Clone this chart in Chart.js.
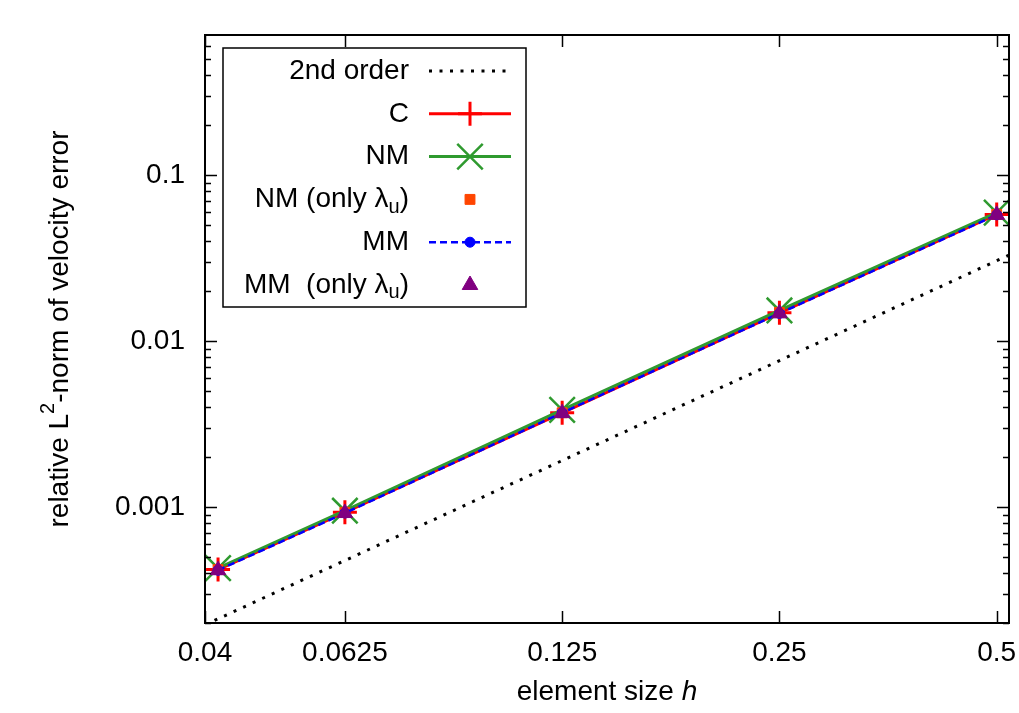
<!DOCTYPE html>
<html>
<head>
<meta charset="utf-8">
<script src="https://cdn.jsdelivr.net/npm/chart.js@4/dist/chart.umd.min.js"></script>
<style>
  html, body { margin: 0; padding: 0; background: #fff; }
  #wrap { width: 1019px; height: 713px; }
</style>
</head>
<body>
<div id="wrap"><canvas id="errChart" width="1019" height="713"></canvas></div>
<script>
// element sizes h
const hValues = [0.0417, 0.0625, 0.125, 0.25, 0.5];

// relative L2-norm of velocity error, one array per method
const errC = [0.00042, 0.00093, 0.0037, 0.0148, 0.058];
const errNM = [0.000428, 0.00095, 0.00385, 0.0153, 0.0595];
const errNMonly = [0.00042, 0.00093, 0.0037, 0.0149, 0.058];
const errMM = [0.000416, 0.00092, 0.0037, 0.0147, 0.0577];
const errMMonly = [0.000416, 0.00092, 0.00368, 0.0147, 0.0577];

// 2nd order reference line (end points)
const orderH = [0.04, 0.52];
const orderErr = [0.000195, 0.033];

const seriesLabels = ['2nd order', 'C', 'NM', 'NM (only λ_u)', 'MM', 'MM  (only λ_u)'];

const xTickValues = [0.04, 0.0625, 0.125, 0.25, 0.5];
const xTickLabels = ['0.04', '0.0625', '0.125', '0.25', '0.5'];
const yTickValues = [0.001, 0.01, 0.1];
const yTickLabels = ['0.001', '0.01', '0.1'];

const FONT = "'Liberation Sans', Arial, Helvetica, sans-serif";
const FS = 28;

const pts = (xs, ys) => xs.map((x, i) => ({ x: x, y: ys[i] }));

// big markers should not shrink the plot frame (they get clipped like gnuplot does)
if (Chart.controllers && Chart.controllers.scatter) {
  Chart.controllers.scatter.prototype.getMaxOverflow = function () { return 0; };
}

// inward gnuplot-like ticks + frame, and x tick labels
const frameTicks = {
  id: 'frameTicks',
  afterDatasetsDraw(chart) {
    const { ctx, chartArea: a, scales } = chart;
    const xs = scales.x, ys = scales.y;
    ctx.save();
    ctx.strokeStyle = '#000';
    ctx.lineWidth = 1.5;
    ctx.beginPath();
    xTickValues.forEach(v => {
      const px = Math.round(xs.getPixelForValue(v)) + 0.5;
      ctx.moveTo(px, a.bottom); ctx.lineTo(px, a.bottom - 12);
      ctx.moveTo(px, a.top); ctx.lineTo(px, a.top + 12);
    });
    // y major and minor ticks
    for (let e = -4; e <= 0; e++) {
      for (let m = 1; m <= 9; m++) {
        const v = m * Math.pow(10, e);
        if (v < ys.min || v > ys.max) continue;
        const len = m === 1 ? 12 : 6;
        const py = Math.round(ys.getPixelForValue(v)) + 0.5;
        ctx.moveTo(a.left, py); ctx.lineTo(a.left + len, py);
        ctx.moveTo(a.right, py); ctx.lineTo(a.right - len, py);
      }
    }
    ctx.stroke();
    ctx.lineWidth = 2;
    ctx.strokeRect(a.left, a.top, a.right - a.left, a.bottom - a.top);

    ctx.fillStyle = '#000';
    ctx.font = FS + 'px ' + FONT;
    ctx.textAlign = 'center';
    ctx.textBaseline = 'middle';
    xTickValues.forEach((v, i) => {
      ctx.fillText(xTickLabels[i], xs.getPixelForValue(v), a.bottom + 30);
    });
    ctx.restore();
  }
};

// draw text with "_x" subscript / "^x" superscript parts
function richParts(text) {
  const parts = [];
  let i = 0, buf = '';
  while (i < text.length) {
    const c = text[i];
    if ((c === '_' || c === '^') && i + 1 < text.length) {
      if (buf) parts.push({ t: buf, k: 'n' });
      buf = '';
      parts.push({ t: text[i + 1], k: c === '_' ? 'sub' : 'sup' });
      i += 2;
    } else { buf += c; i++; }
  }
  if (buf) parts.push({ t: buf, k: 'n' });
  return parts;
}
function richWidth(ctx, parts, size) {
  let w = 0;
  parts.forEach(p => {
    ctx.font = (p.k === 'n' ? size : Math.round(size * 0.7)) + 'px ' + FONT;
    w += ctx.measureText(p.t).width;
  });
  return w;
}
function drawRich(ctx, parts, x, y, size) {
  let cx = x;
  parts.forEach(p => {
    const s = p.k === 'n' ? size : Math.round(size * 0.7);
    ctx.font = s + 'px ' + FONT;
    const dy = p.k === 'sub' ? size * 0.28 : (p.k === 'sup' ? -size * 0.4 : 0);
    ctx.fillText(p.t, cx, y + dy);
    cx += ctx.measureText(p.t).width;
  });
}

// legend box with text left of the sample, like gnuplot
const boxLegend = {
  id: 'boxLegend',
  afterDraw(chart) {
    const ctx = chart.ctx;
    const bx = 223, by = 48, bw = 303, bh = 259;
    ctx.save();
    ctx.fillStyle = '#fff';
    ctx.fillRect(bx, by, bw, bh);
    ctx.strokeStyle = '#000';
    ctx.lineWidth = 1.5;
    ctx.strokeRect(bx, by, bw, bh);
    chart.data.datasets.forEach((ds, i) => {
      const y = 71 + i * 42.8;
      const parts = richParts(ds.label);
      ctx.fillStyle = '#000';
      ctx.textBaseline = 'middle';
      ctx.textAlign = 'left';
      const w = richWidth(ctx, parts, FS);
      drawRich(ctx, parts, 409 - w, y, FS);
      if (ds.showLine !== false) {
        ctx.save();
        ctx.strokeStyle = ds.borderColor;
        ctx.lineWidth = ds.borderWidth;
        ctx.setLineDash(ds.borderDash || []);
        ctx.beginPath();
        ctx.moveTo(429, y); ctx.lineTo(511, y);
        ctx.stroke();
        ctx.restore();
      }
      if (ds.pointRadius > 0) {
        ctx.save();
        ctx.strokeStyle = ds.pointBorderColor;
        ctx.fillStyle = ds.pointBackgroundColor;
        ctx.lineWidth = ds.pointBorderWidth;
        Chart.helpers.drawPoint(ctx, { pointStyle: ds.pointStyle, radius: ds.pointRadius, borderWidth: ds.pointBorderWidth, rotation: 0 }, 470, y);
        ctx.restore();
      }
    });
    ctx.restore();
  }
};

// axis titles (superscript 2, italic h)
const axisTitles = {
  id: 'axisTitles',
  afterDraw(chart) {
    const { ctx, chartArea: a } = chart;
    ctx.save();
    ctx.fillStyle = '#000';
    ctx.textBaseline = 'middle';
    ctx.textAlign = 'left';
    // x title
    ctx.font = FS + 'px ' + FONT;
    const t1 = 'element size ';
    const w1 = ctx.measureText(t1).width;
    ctx.font = 'italic ' + FS + 'px ' + FONT;
    const w2 = ctx.measureText('h').width;
    const x0 = (a.left + a.right) / 2 - (w1 + w2) / 2;
    ctx.font = FS + 'px ' + FONT;
    ctx.fillText(t1, x0, 692);
    ctx.font = 'italic ' + FS + 'px ' + FONT;
    ctx.fillText('h', x0 + w1, 692);
    // y title
    const parts = richParts('relative L^2-norm of velocity error');
    const w = richWidth(ctx, parts, FS);
    ctx.translate(60, (a.top + a.bottom) / 2);
    ctx.rotate(-Math.PI / 2);
    drawRich(ctx, parts, -w / 2, 0, FS);
    ctx.restore();
  }
};

new Chart(document.getElementById('errChart'), {
  type: 'scatter',
  data: {
    datasets: [
      {
        label: seriesLabels[0], data: pts(orderH, orderErr), showLine: true,
        borderColor: '#000', borderWidth: 3, borderDash: [3, 7.5], pointRadius: 0, order: 5
      },
      {
        label: seriesLabels[1], data: pts(hValues, errC), showLine: true,
        borderColor: '#ff0000', borderWidth: 3,
        pointStyle: 'cross', pointRadius: 12, pointBorderWidth: 3,
        pointBorderColor: '#ff0000', pointBackgroundColor: '#ff0000', order: 4
      },
      {
        label: seriesLabels[2], data: pts(hValues, errNM), showLine: true,
        borderColor: '#2f9a2f', borderWidth: 3,
        pointStyle: 'crossRot', pointRadius: 18, pointBorderWidth: 2.5,
        pointBorderColor: '#2f9a2f', pointBackgroundColor: '#2f9a2f', order: 3
      },
      {
        label: seriesLabels[3], data: pts(hValues, errNMonly), showLine: false,
        borderColor: '#ff4500', borderWidth: 0,
        pointStyle: 'rect', pointRadius: 7, pointBorderWidth: 1,
        pointBorderColor: '#ff4500', pointBackgroundColor: '#ff4500', order: 2
      },
      {
        label: seriesLabels[4], data: pts(hValues, errMM), showLine: true,
        borderColor: '#0000ff', borderWidth: 2.5, borderDash: [7, 4],
        pointStyle: 'circle', pointRadius: 5, pointBorderWidth: 1,
        pointBorderColor: '#0000ff', pointBackgroundColor: '#0000ff', order: 1
      },
      {
        label: seriesLabels[5], data: pts(hValues, errMMonly), showLine: false,
        borderColor: '#800080', borderWidth: 0,
        pointStyle: 'triangle', pointRadius: 9, pointBorderWidth: 1,
        pointBorderColor: '#800080', pointBackgroundColor: '#800080', order: 0
      }
    ]
  },
  options: {
    responsive: false,
    animation: false,
    layout: { padding: { top: 35, right: 10, left: 0, bottom: 0 } },
    plugins: { legend: { display: false }, tooltip: { enabled: false } },
    scales: {
      x: {
        type: 'logarithmic', min: 0.04, max: 0.52,
        afterBuildTicks: s => { s.ticks = xTickValues.map(v => ({ value: v })); },
        afterFit: s => { s.height = 90; s.paddingLeft = 0; s.paddingRight = 0; },
        grid: { display: false, drawTicks: false },
        border: { display: false },
        ticks: { display: false }
      },
      y: {
        type: 'logarithmic', min: 0.0002, max: 0.7,
        afterBuildTicks: s => { s.ticks = yTickValues.map(v => ({ value: v })); },
        afterFit: s => { s.width = 205; s.paddingTop = 0; s.paddingBottom = 0; },
        grid: { display: false, drawTicks: false },
        border: { display: false },
        ticks: {
          autoSkip: false, padding: 20, color: '#000',
          font: { family: FONT, size: FS },
          callback: v => yTickLabels[yTickValues.indexOf(v)]
        }
      }
    }
  },
  plugins: [frameTicks, boxLegend, axisTitles]
});
</script>
</body>
</html>
